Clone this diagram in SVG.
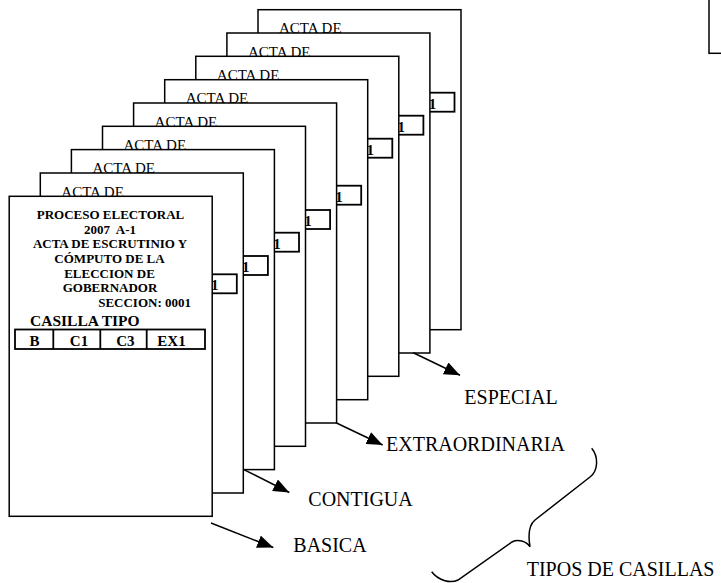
<svg xmlns="http://www.w3.org/2000/svg" width="721" height="583" viewBox="0 0 721 583">
<style>
.card{fill:#fff;stroke:#000;stroke-width:1.5}
.box{fill:#fff;stroke:#000;stroke-width:1.8}
.acta{font-family:"Liberation Serif",serif;font-size:15px;fill:#000}
.bx{font-family:"Liberation Serif",serif;font-size:15px;font-weight:bold;fill:#000;text-anchor:middle}
.hd{font-family:"Liberation Serif",serif;font-size:13px;font-weight:bold;fill:#000;text-anchor:middle}
.lbl{font-family:"Liberation Serif",serif;font-size:20px;fill:#000}
.conn{stroke:#000;stroke-width:1.5;fill:none}
</style>
<defs>
<marker id="ah" markerUnits="userSpaceOnUse" markerWidth="16" markerHeight="13" refX="16" refY="6.5" orient="auto">
<path d="M0,0 L16,6.5 L0,13 z" fill="#000"/>
</marker>
</defs>
<rect x="709" y="-5" width="20" height="58.3" fill="#fff" stroke="#000" stroke-width="1.5"/>
<g id="card8"><rect class="card" x="258" y="9.7" width="203" height="320"/><text class="acta" x="279" y="33.2">ACTA DE</text><rect class="box" x="396.5" y="92.7" width="58" height="19"/><text class="bx" x="422" y="108.5">EX1</text></g>
<g id="card7"><rect class="card" x="226.9" y="33" width="203" height="320"/><text class="acta" x="247.9" y="56.5">ACTA DE</text><rect class="box" x="365.4" y="115.7" width="58" height="19"/><text class="bx" x="390.9" y="131.5">EX1</text></g>
<g id="card6"><rect class="card" x="195.8" y="56.3" width="203" height="320"/><text class="acta" x="216.8" y="79.8">ACTA DE</text><rect class="box" x="334.3" y="138.7" width="58" height="19"/><text class="bx" x="359.8" y="154.5">EX1</text></g>
<g id="card5"><rect class="card" x="164.7" y="79.7" width="203" height="320"/><text class="acta" x="185.7" y="103.2">ACTA DE</text><rect class="box" x="303.2" y="185.7" width="58" height="19"/><text class="bx" x="328.7" y="201.5">EX1</text></g>
<g id="card4"><rect class="card" x="133.6" y="103" width="203" height="320"/><text class="acta" x="154.6" y="126.5">ACTA DE</text><rect class="box" x="272.1" y="210" width="58" height="19"/><text class="bx" x="297.6" y="225.8">EX1</text></g>
<g id="card3"><rect class="card" x="102.5" y="126.3" width="203" height="320"/><text class="acta" x="123.5" y="149.8">ACTA DE</text><rect class="box" x="241" y="232.7" width="58" height="19"/><text class="bx" x="266.5" y="248.5">EX1</text></g>
<g id="card2"><rect class="card" x="71.4" y="149.6" width="203" height="320"/><text class="acta" x="92.4" y="173.1">ACTA DE</text><rect class="box" x="209.9" y="256" width="58" height="19"/><text class="bx" x="235.4" y="271.8">EX1</text></g>
<g id="card1"><rect class="card" x="40.3" y="173" width="203" height="320"/><text class="acta" x="61.3" y="196.5">ACTA DE</text><rect class="box" x="178.8" y="274.3" width="58" height="19"/><text class="bx" x="204.3" y="290.1">EX1</text></g>
<g id="card0">
<rect class="card" x="9.2" y="196.3" width="203" height="320"/>
<text class="hd" x="110.5" y="218.5">PROCESO ELECTORAL</text>
<text class="hd" x="110" y="234">2007&#160; A-1</text>
<text class="hd" x="110" y="248.3">ACTA DE ESCRUTINIO Y</text>
<text class="hd" x="109.5" y="263.3">CÓMPUTO DE LA</text>
<text class="hd" x="109.5" y="277.7">ELECCION DE</text>
<text class="hd" x="110" y="292">GOBERNADOR</text>
<text class="hd" x="191" y="307" style="text-anchor:end">SECCION: 0001</text>
<text x="30" y="325.7" font-family="Liberation Serif, serif" font-size="15.5" font-weight="bold">CASILLA TIPO</text>
<rect class="box" x="15" y="329.5" width="190" height="19.5"/>
<line x1="53.3" y1="329.5" x2="53.3" y2="349" stroke="#000" stroke-width="1.8"/>
<line x1="100.3" y1="329.5" x2="100.3" y2="349" stroke="#000" stroke-width="1.8"/>
<line x1="146.7" y1="329.5" x2="146.7" y2="349" stroke="#000" stroke-width="1.8"/>
<text class="bx" x="34.6" y="346.3">B</text>
<text class="bx" x="79" y="346.3">C1</text>
<text class="bx" x="125.3" y="346.3">C3</text>
<text class="bx" x="171.5" y="346.3">EX1</text>
</g>
<g id="connectors">
<line class="conn" x1="413.3" y1="352.7" x2="460" y2="375.3" marker-end="url(#ah)"/>
<line class="conn" x1="336" y1="422.7" x2="382.7" y2="445" marker-end="url(#ah)"/>
<line class="conn" x1="243.3" y1="469.3" x2="289.3" y2="492.5" marker-end="url(#ah)"/>
<line class="conn" x1="211" y1="523" x2="273.3" y2="547.5" marker-end="url(#ah)"/>
<path class="conn" d="M591.7,448.3 C598,456 599,470 590,477 L535,520 C529,525 528,535 530,546.7 C526,541 518,539 512,542 L458,580 C450,584 438,580 431.7,571.7"/>
</g>
<g id="labels">
<text class="lbl" x="464.3" y="404.3">ESPECIAL</text>
<text class="lbl" x="386" y="451" font-size="19">EXTRAORDINARIA</text>
<text class="lbl" x="308.3" y="505.7">CONTIGUA</text>
<text class="lbl" x="293.3" y="551.7">BASICA</text>
<text class="lbl" x="526.7" y="576">TIPOS DE CASILLAS</text>
</g>
</svg>
